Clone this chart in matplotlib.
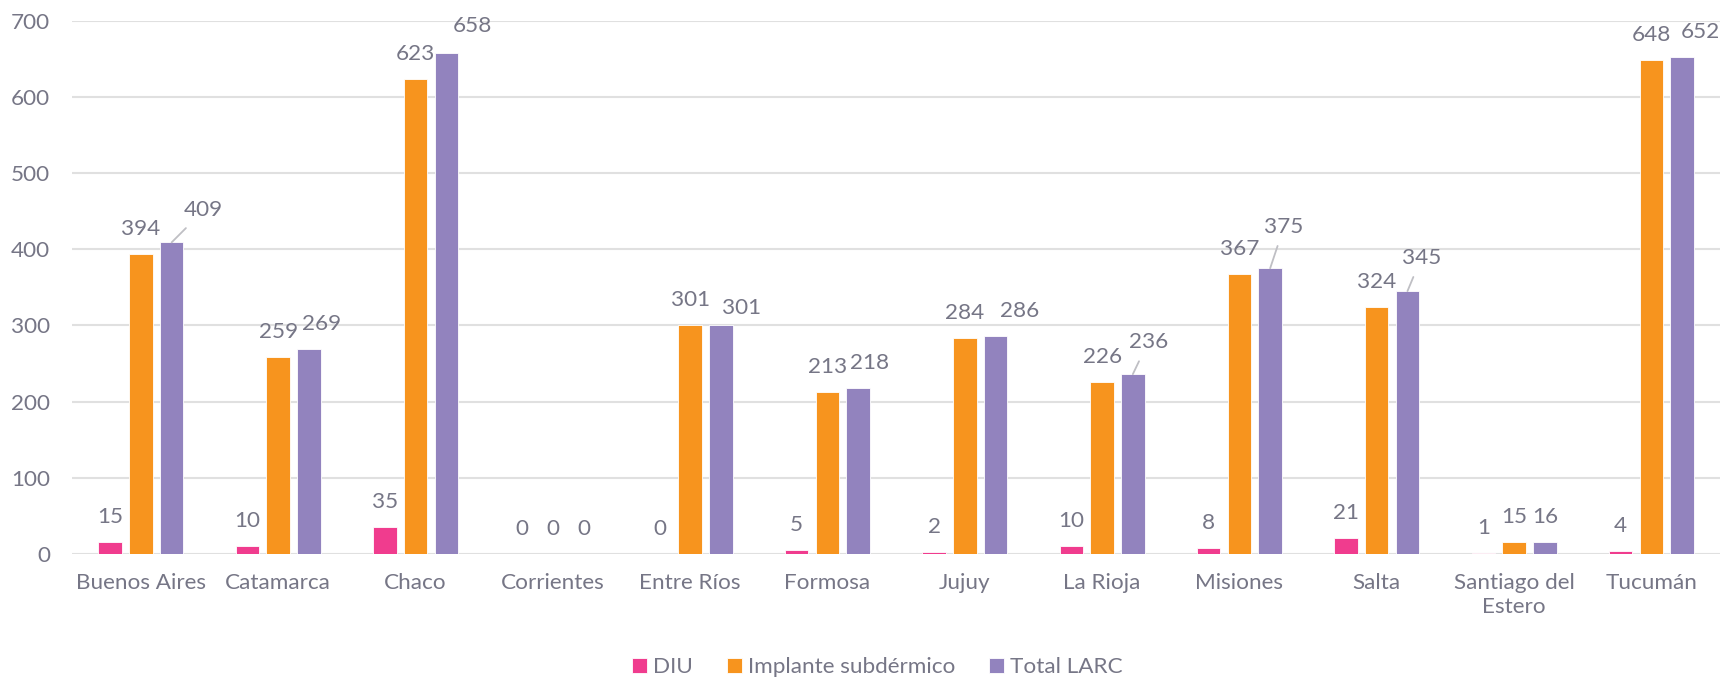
import numpy as np
import matplotlib.pyplot as plt

provincias = ['Buenos Aires', 'Catamarca', 'Chaco', 'Corrientes', 'Entre Ríos', 'Formosa',
              'Jujuy', 'La Rioja', 'Misiones', 'Salta', 'Santiago del\nEstero', 'Tucumán']
diu = [15, 10, 35, 0, 0, 5, 2, 10, 8, 21, 1, 4]
implante = [394, 259, 623, 0, 301, 213, 284, 226, 367, 324, 15, 648]
total_larc = [409, 269, 658, 0, 301, 218, 286, 236, 375, 345, 16, 652]

series = [('DIU', diu, '#F03C8E'),
          ('Implante subdérmico', implante, '#F7941E'),
          ('Total LARC', total_larc, '#9283BE')]

# labels nudged off their bar (offset in points), some with a leader line
label_offsets = {
    ('Total LARC', 0): ((23, 23), True),
    ('Total LARC', 1): ((9, 18), False),
    ('Total LARC', 2): ((18.5, 19), False),
    ('Total LARC', 4): ((15, 12), False),
    ('Total LARC', 5): ((8, 18), False),
    ('Total LARC', 6): ((17, 18), False),
    ('Total LARC', 7): ((11, 23), True),
    ('Total LARC', 8): ((10, 30), True),
    ('Total LARC', 9): ((10, 24), True),
    ('Total LARC', 11): ((13, 18.4), False),
}

text_color = '#767686'
fs = 16.2
plt.rcParams['font.family'] = ['Lato', 'DejaVu Sans']

fig = plt.figure(figsize=(17.2, 6.78), dpi=100)
ax = fig.add_axes([0.042, 0.183, 0.958, 0.7865])

x = np.arange(len(provincias))
pitch = 0.224
width = 0.171
for k, (name, vals, color) in enumerate(series):
    pos = x + (k - 1) * pitch
    ax.bar(pos, vals, width, color=color, edgecolor='white', linewidth=0.6,
           label=name, zorder=3)
    for i, (px, v) in enumerate(zip(pos, vals)):
        off, leader = label_offsets.get((name, i), ((0, 18), False))
        arrow = dict(arrowstyle='-', color='#BFBFC4', lw=1.3, shrinkA=5, shrinkB=0) if leader else None
        ax.annotate(str(v), xy=(px, v), xytext=off, textcoords='offset points',
                    ha='center', va='center', fontsize=fs, color=text_color,
                    arrowprops=arrow, annotation_clip=False)

ax.set_xlim(-0.5, len(provincias) - 0.5)
ax.set_ylim(0, 700)
ax.set_yticks(range(0, 701, 100))
ax.set_xticks(x)
ax.set_xticklabels(provincias)
ax.tick_params(axis='both', length=0, labelsize=fs, labelcolor=text_color)
ax.tick_params(axis='y', pad=16)
ax.tick_params(axis='x', pad=14)
ax.grid(axis='y', color='#E0E0E0', linewidth=1.5, zorder=0)
ax.set_axisbelow(True)
for s in ax.spines.values():
    s.set_visible(False)

leg = fig.legend(loc='center', bbox_to_anchor=(0.51, 0.016), ncol=3, frameon=False,
                 fontsize=fs, handlelength=0.68, handleheight=0.68, handletextpad=0.25,
                 columnspacing=1.5)
for t in leg.get_texts():
    t.set_color(text_color)

fig.savefig('out.png', dpi=100)
